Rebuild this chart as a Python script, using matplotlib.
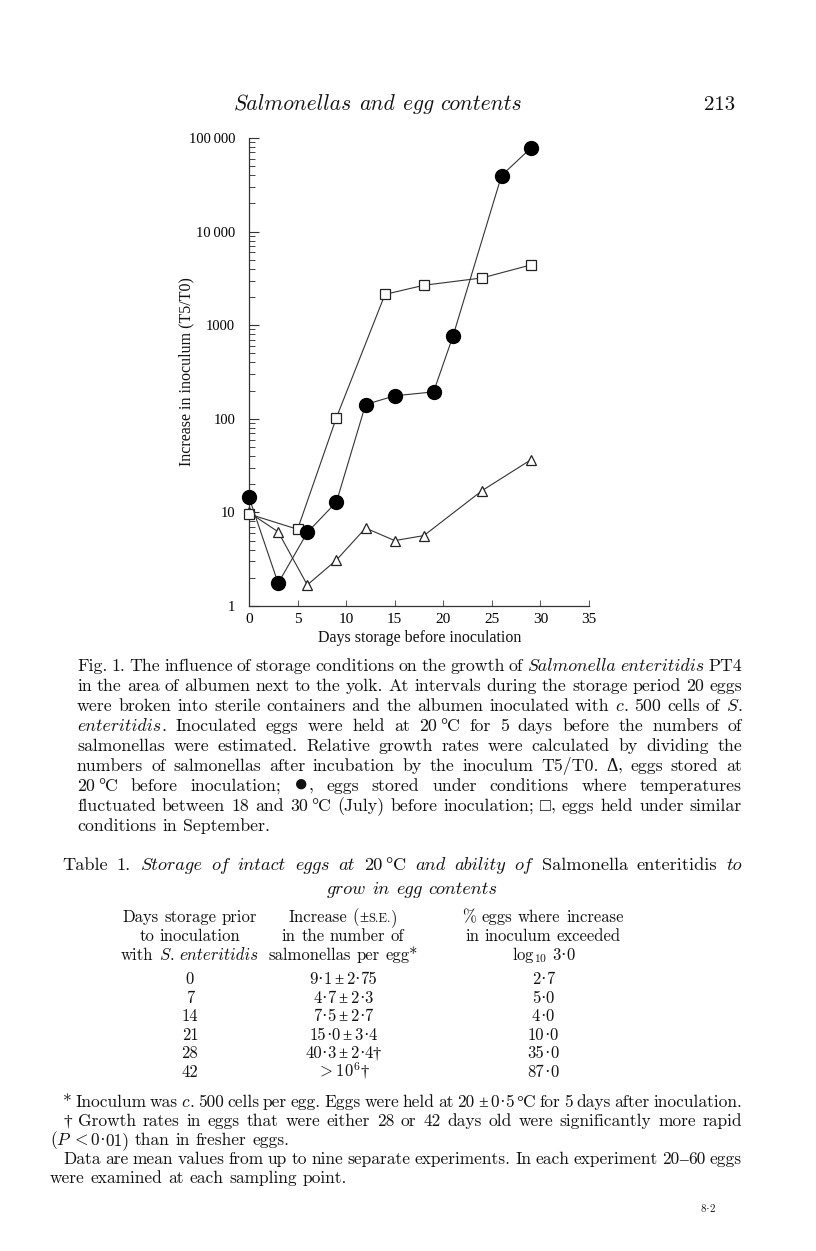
import matplotlib
matplotlib.use('Agg')
import matplotlib.pyplot as plt

W, H = 816, 1251
LIB = ['Liberation Serif', 'DejaVu Serif']
plt.rcParams['font.family'] = LIB
plt.rcParams['mathtext.fontset'] = 'cm'

# ---------------- data ----------------
days_20C = [0, 3, 6, 9, 12, 15, 18, 24, 29]
inc_20C = [10, 6.2, 1.68, 3.1, 6.8, 5.0, 5.65, 17.1, 36.4]
days_july = [0, 3, 6, 9, 12, 15, 19, 21, 26, 29]
inc_july = [14.5, 1.75, 6.1, 12.9, 142, 176, 194, 766, 39700, 77800]
days_sept = [0, 5, 9, 14, 18, 24, 29]
inc_sept = [9.6, 6.6, 103, 2135, 2670, 3200, 4400]

x_ticks = [0, 5, 10, 15, 20, 25, 30, 35]
y_ticks = [1, 10, 100, 1000, 10000, 100000]
y_ticklabels = ['1', '10', '100', '1000', '10\u2009000', '100\u2009000']

table_days = ['0', '7', '14', '21', '28', '42']
table_increase = ['9·1~±~2·75', '4·7~±~2·3', '7·5~±~2·7', '15·0~±~3·4',
                  '40·3~±~2·4†', '$>10^{6}$†']
table_pct = ['2·7', '5·0', '4·0', '10·0', '35·0', '87·0']

header_title = '{Salmonellas and egg contents}'
page_number = '213'
caption_lines = [
    'Fig. 1. The influence of storage conditions on the growth of {Salmonella enteritidis} PT4',
    'in the area of albumen next to the yolk. At intervals during the storage period 20 eggs',
    'were broken into sterile containers and the albumen inoculated with {c}. 500 cells of {S}.',
    '{enteritidis}. Inoculated eggs were held at 20~°C for 5 days before the numbers of',
    'salmonellas were estimated. Relative growth rates were calculated by dividing the',
    'numbers of salmonellas after incubation by the inoculum T5/T0. Δ, eggs stored at',
    '20~°C before inoculation; ●, eggs stored under conditions where temperatures',
    'fluctuated between 18 and 30~°C (July) before inoculation; □, eggs held under similar',
    'conditions in September.',
]
table_title = ['Table 1. {Storage of intact eggs at} 20~°C {and ability of} Salmonella enteritidis {to}',
               '{grow in egg contents}']
col_heads = [
    ['Days storage prior', 'to inoculation', 'with {S}. {enteritidis}'],
    ['Increase (±[S.E.])', 'in the number of', 'salmonellas per egg*'],
    ['% eggs where increase', 'in inoculum exceeded', '$\\mathrm{log}_{10}$ 3·0'],
]
footnotes = [
    ('*  Inoculum was {c}. 500 cells per egg. Eggs were held at 20~±~0·5~°C for 5 days after inoculation.', 'j', 1),
    ('†  Growth rates in eggs that were either 28 or 42 days old were significantly more rapid', 'j', 1),
    ('({P}~$<$~0·01) than in fresher eggs.', 'l', 0),
    ('Data are mean values from up to nine separate experiments. In each experiment 20–60 eggs', 'j', 1),
    ('were examined at each sampling point.', 'l', 0),
]

# ---------------- figure ----------------
fig = plt.figure(figsize=(W / 100, H / 100), dpi=100)
fig.patch.set_facecolor('white')

ax_left, ax_right, ax_top, ax_bot = 249, 589, 138, 606
ax = fig.add_axes([ax_left / W, 1 - ax_bot / H, (ax_right - ax_left) / W, (ax_bot - ax_top) / H])
ax.set_yscale('log')
ax.set_xlim(0, 35)
ax.set_ylim(1, 100000)
for s in ['top', 'right']:
    ax.spines[s].set_visible(False)
for s in ['left', 'bottom']:
    ax.spines[s].set_linewidth(0.9)
    ax.spines[s].set_color('#333333')
ax.set_xticks(x_ticks)
ax.set_xticklabels([str(v) for v in x_ticks])
ax.set_yticks(y_ticks)
ax.set_yticklabels(y_ticklabels)
ax.tick_params(axis='y', which='major', direction='in', length=7, width=0.8,
               color='#333333', pad=10, labelsize=10.5)
ax.tick_params(axis='y', which='minor', direction='in', length=4, width=0.7, color='#444444')
ax.tick_params(axis='x', which='major', direction='in', length=4, width=0.7,
               color='#555555', pad=5, labelsize=11)
ax.tick_params(axis='x', which='minor', length=0)

line_kw = dict(color='#333333', lw=0.8, clip_on=False)
ax.plot(days_20C, inc_20C, marker='^', ms=7, mfc='white', mec='#222222', mew=0.9, zorder=3, **line_kw)
ax.plot(days_sept, inc_sept, marker='s', ms=6.5, mfc='white', mec='#222222', mew=0.9, zorder=4, **line_kw)
ax.plot(days_july, inc_july, marker='o', ms=10, mfc='black', mec='black', zorder=5, **line_kw)

renderer = fig.canvas.get_renderer()

CM_SAFE = set('ABCDEFGHIJKLMNOPQRSTUVWXYZabcdefghijklmnopqrstuvwxyz0123456789.,;:()/*%?!-+=')
LETTERS = set('ABCDEFGHIJKLMNOPQRSTUVWXYZabcdefghijklmnopqrstuvwxyz')


def fx(x):
    return x / W


def fy(y):
    return 1 - y / H


def twidth(t):
    return t.get_window_extent(renderer).width


def em(size):
    return size * 100 / 72


def parse(s):
    words, cur, seg = [], [], ['']
    state = {'it': False, 'sc': 1.0, 'math': False}

    def flush():
        if seg[0]:
            cur.append((seg[0], state['it'], state['sc']))
            seg[0] = ''
    for ch in s:
        if ch == '$':
            if not state['math']:
                flush()
                state['math'] = True
                seg[0] = '$'
            else:
                seg[0] += '$'
                state['math'] = False
                flush()
        elif state['math']:
            seg[0] += ch
        elif ch in '{}[]':
            flush()
            if ch == '{':
                state['it'] = True
            elif ch == '}':
                state['it'] = False
            elif ch == '[':
                state['sc'] = 0.75
            else:
                state['sc'] = 1.0
        elif ch == ' ':
            flush()
            if cur:
                words.append(list(cur))
                cur.clear()
        else:
            seg[0] += ch
    flush()
    if cur:
        words.append(list(cur))
    return words


def runs_of(txt, it):
    if txt.startswith('$'):
        return [('math', txt)]
    out = []
    for ch in txt:
        if ch == '~':
            cls = 'thin'
        elif ch == '●':
            cls = 'dot'
        elif it and ch in LETTERS:
            cls = 'cmmi'
        elif ch in CM_SAFE:
            cls = 'cmr'
        else:
            cls = 'libi' if it else 'lib'
        if out and out[-1][0] == cls:
            out[-1] = (cls, out[-1][1] + ch)
        else:
            out.append((cls, ch))
    return out


FAMS = {'cmr': ['cmr10', 'DejaVu Serif'], 'cmmi': ['cmmi10', 'DejaVu Serif'],
        'lib': LIB, 'libi': LIB, 'math': LIB, 'dot': LIB}


def build_word(word, y, size):
    arts, w = [], 0.0
    for txt, it, sc in word:
        fs = size * sc
        for cls, run in runs_of(txt, it):
            if cls == 'thin':
                w += 0.17 * em(fs) * len(run)
                continue
            rs = fs * 1.35 if cls == 'dot' else fs
            t = fig.text(0, fy(y), run, fontsize=rs, family=FAMS[cls],
                         fontstyle='italic' if cls == 'libi' else 'normal',
                         ha='left', va='baseline', color='#111111')
            arts.append((t, w))
            w += twidth(t)
    return arts, w


def text_line(markup, x0, x1, y, size, mode='left'):
    words = parse(markup)
    for _ in range(3):
        built = [build_word(w, y, size) for w in words]
        total = sum(b[1] for b in built)
        sp = 0.333 * em(size)
        n = len(built)
        if mode == 'justify' and n > 1 and (x1 - x0 - total) / (n - 1) < 0.6 * sp:
            for arts, _w in built:
                for t, _o in arts:
                    t.remove()
            size *= (x1 - x0 - 0.6 * sp * (n - 1)) / total * 0.995
            continue
        break
    if mode == 'justify' and n > 1:
        gap = (x1 - x0 - total) / (n - 1)
        x = x0
    else:
        gap = sp
        natural = total + sp * (n - 1)
        if mode == 'left':
            x = x0
        elif mode == 'center':
            x = (x0 + x1) / 2 - natural / 2
        else:
            x = x1 - natural
    for arts, w in built:
        for t, off in arts:
            t.set_x(fx(x + off))
        x += w + gap


# ---------------- page header ----------------
text_line(header_title, 378, 378, 110, 15.5, 'center')
text_line(page_number, 735, 735, 110, 15, 'right')

# axis labels
fig.text(fx(186), fy(ax_top + (ax_bot - ax_top) / 2), 'Increase in inoculum (T5/T0)', rotation=90,
         ha='center', va='center', fontsize=11.5, color='#111111')
fig.text(fx(420), fy(642), 'Days storage before inoculation', ha='center', va='baseline',
         fontsize=11.5, color='#111111')

# ---------------- caption ----------------
BODY = 12.8
cap_x0, cap_x1 = 77, 742
for i, ln in enumerate(caption_lines):
    y = 671 + 20 * i
    mode = 'left' if i == len(caption_lines) - 1 else 'justify'
    text_line(ln, cap_x0, cap_x1, y, BODY, mode)

# ---------------- table ----------------
TAB = 12.0
text_line(table_title[0], 62, 742, 870, BODY + 0.4, 'justify')
text_line(table_title[1], 412, 412, 894, BODY + 0.4, 'center')

col_centers = [190, 343, 543]
for c, heads in enumerate(col_heads):
    for r, h in enumerate(heads):
        text_line(h, col_centers[c], col_centers[c], 922 + 19 * r, TAB, 'center')

for r in range(len(table_days)):
    y = 984 + 18.6 * r
    text_line(table_days[r], col_centers[0], col_centers[0], y, TAB, 'center')
    text_line(table_increase[r], col_centers[1], col_centers[1], y, TAB, 'center')
    text_line(table_pct[r], col_centers[2], col_centers[2], y, TAB, 'center')

# ---------------- footnotes ----------------
FOOT = 12.5
for i, (ln, mode, indent) in enumerate(footnotes):
    y = 1107 + 19 * i
    x0 = 63 if indent else 50
    text_line(ln, x0, 742, y, FOOT, 'justify' if mode == 'j' else 'left')

text_line('8·2', 708, 708, 1212, 8, 'center')

fig.savefig('out.png', dpi=100, facecolor='white')
